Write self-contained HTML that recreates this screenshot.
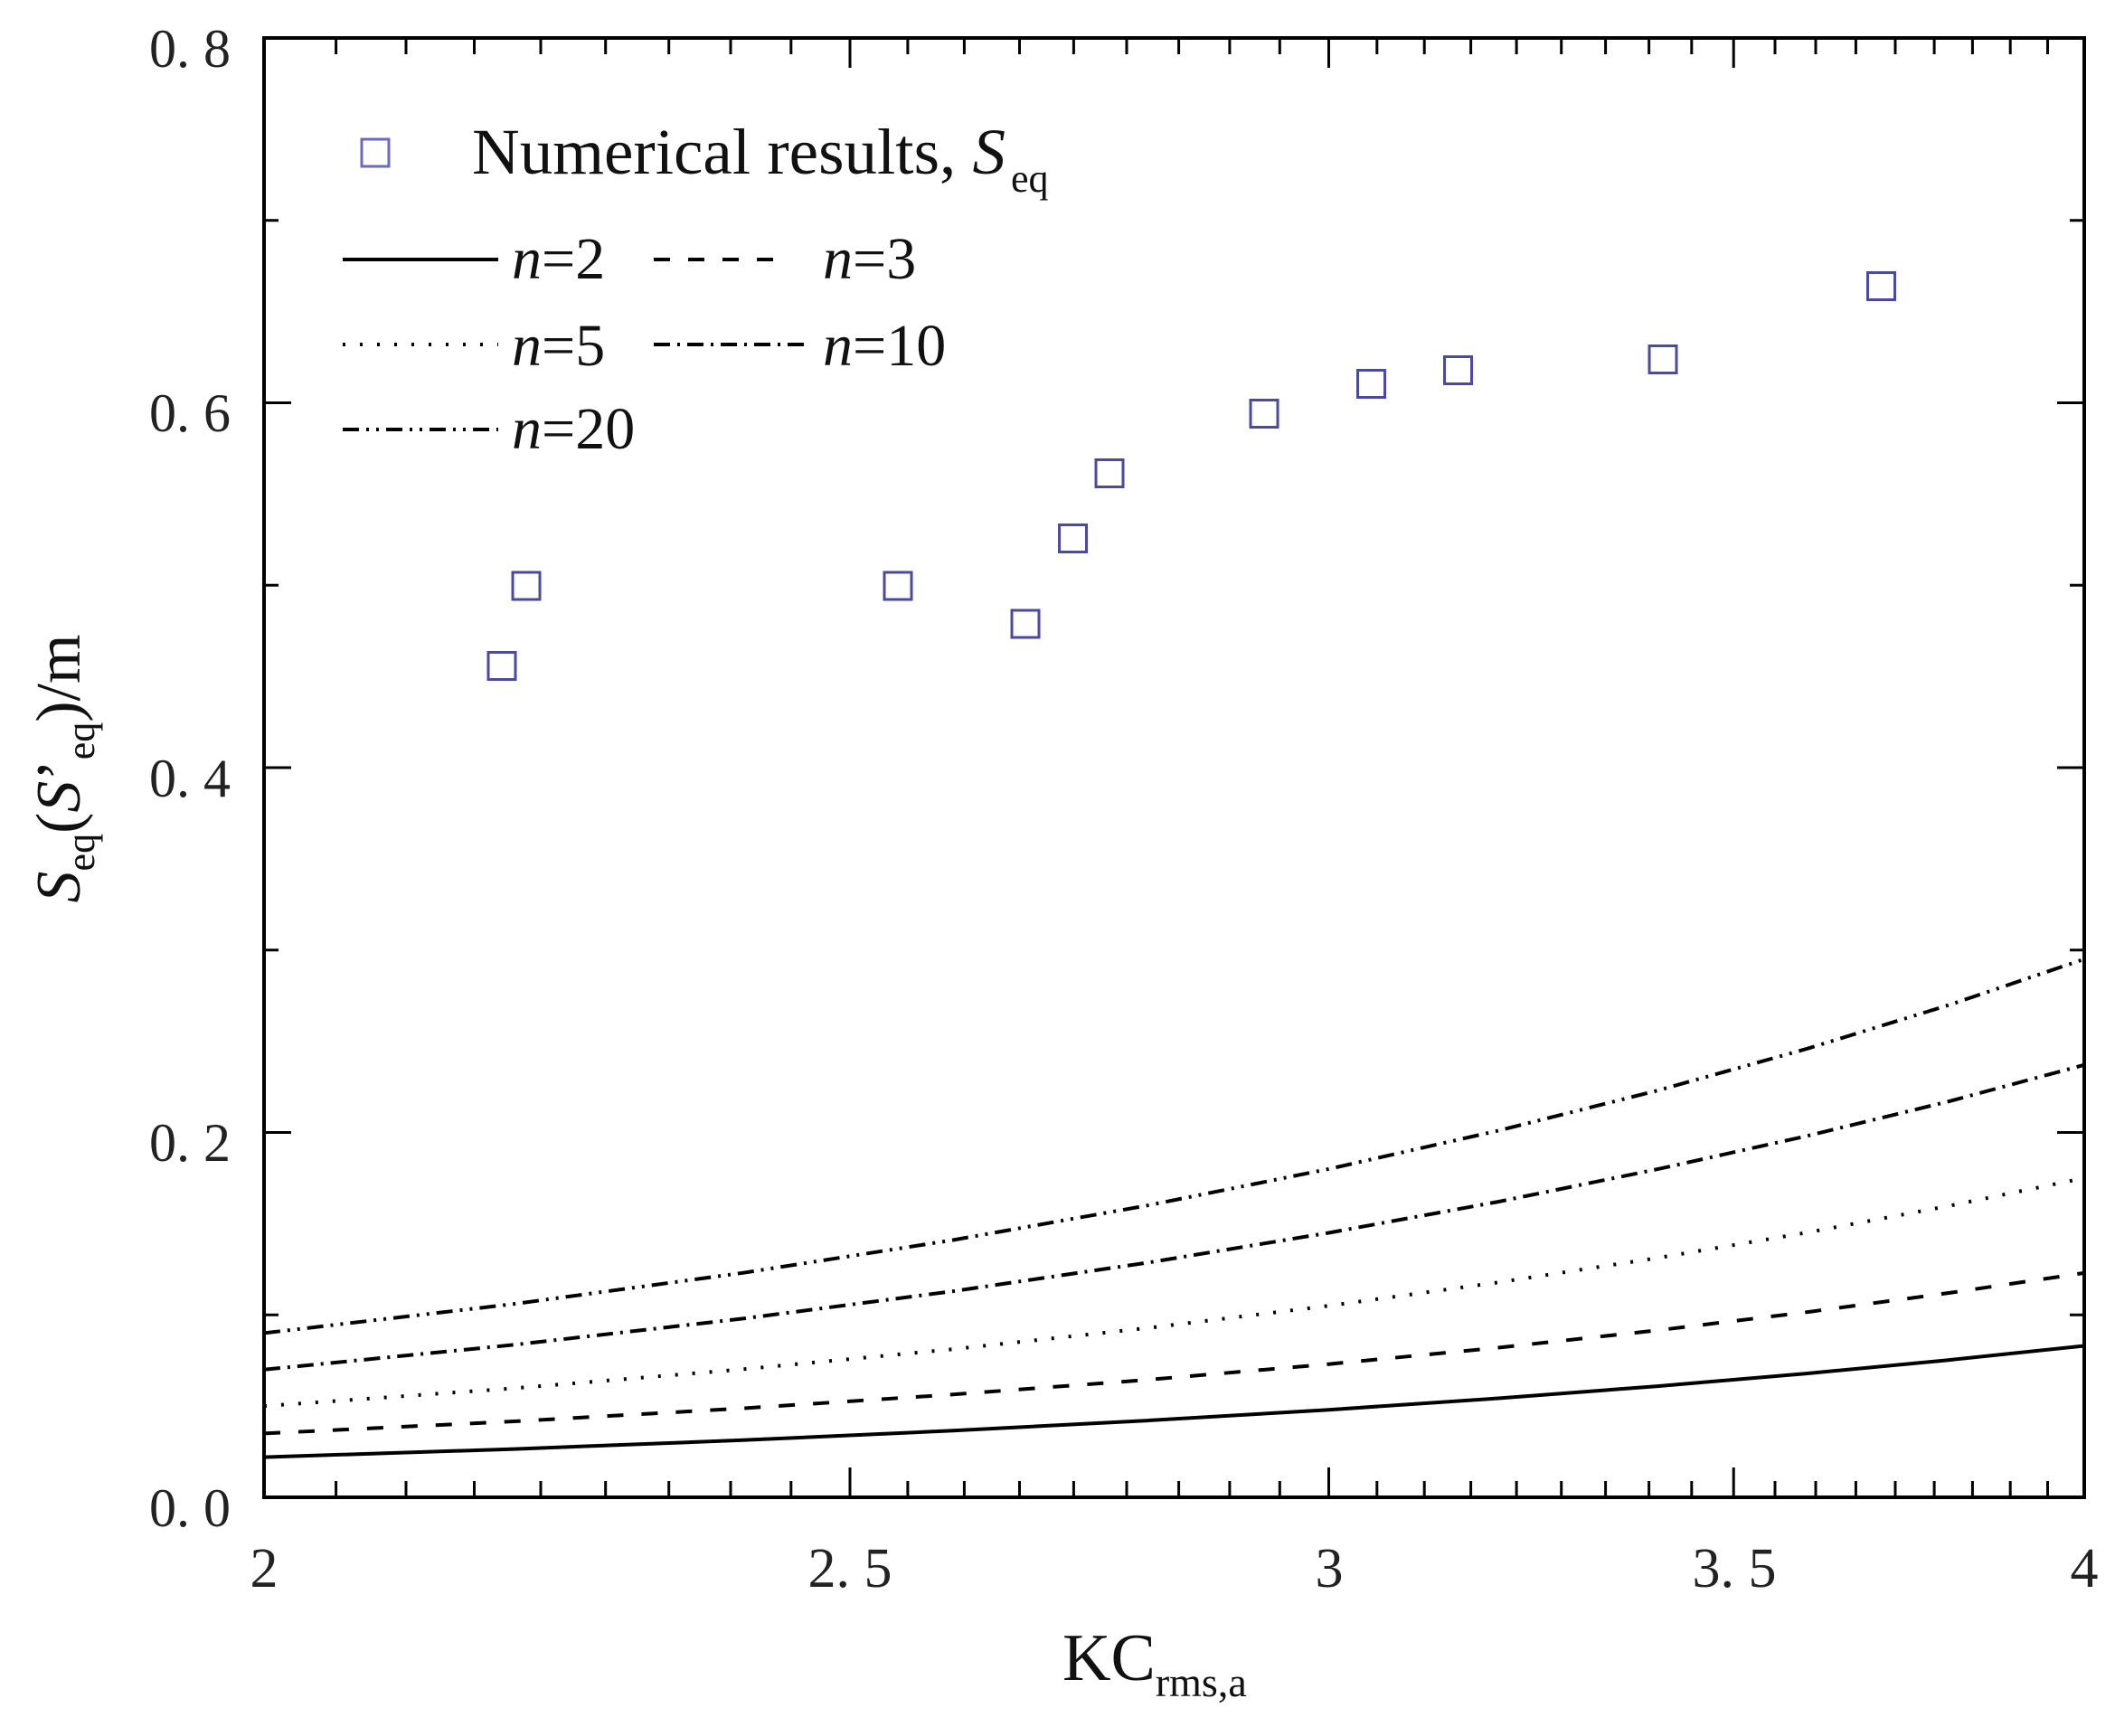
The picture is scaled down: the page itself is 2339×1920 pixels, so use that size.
<!DOCTYPE html>
<html><head><meta charset="utf-8"><style>body{margin:0;background:#fff}svg{display:block}</style></head><body>
<svg width="2339" height="1920" viewBox="0 0 2339 1920" xmlns="http://www.w3.org/2000/svg" font-family="Liberation Serif, serif">
<rect width="2339" height="1920" fill="#fff"/>
<g stroke="#000" stroke-width="3" fill="none">
<path d="M292 1656v-33M292 42v33M940 1656v-33M940 42v33M1469.5 1656v-33M1469.5 42v33M1917.2 1656v-33M1917.2 42v33M2305 1656v-33M2305 42v33"/>
<path d="M371.6 1656v-18M449 1656v-18M524.5 1656v-18M598 1656v-18M669.7 1656v-18M739.7 1656v-18M808 1656v-18M874.8 1656v-18M1003.9 1656v-18M1066.4 1656v-18M1127.5 1656v-18M1187.4 1656v-18M1246 1656v-18M1303.6 1656v-18M1359.9 1656v-18M1415.3 1656v-18M1522.8 1656v-18M1575.2 1656v-18M1626.6 1656v-18M1677.1 1656v-18M1726.7 1656v-18M1775.6 1656v-18M1823.6 1656v-18M1870.8 1656v-18M1963 1656v-18M2008 1656v-18M2052.4 1656v-18M2096 1656v-18M2139.1 1656v-18M2181.4 1656v-18M2223.2 1656v-18M2264.5 1656v-18"/>
<path d="M371.6 42v18M449 42v18M524.5 42v18M598 42v18M669.7 42v18M739.7 42v18M808 42v18M874.8 42v18M1003.9 42v18M1066.4 42v18M1127.5 42v18M1187.4 42v18M1246 42v18M1303.6 42v18M1359.9 42v18M1415.3 42v18M1522.8 42v18M1575.2 42v18M1626.6 42v18M1677.1 42v18M1726.7 42v18M1775.6 42v18M1823.6 42v18M1870.8 42v18M1963 42v18M2008 42v18M2052.4 42v18M2096 42v18M2139.1 42v18M2181.4 42v18M2223.2 42v18M2264.5 42v18"/>
<path d="M292 1252.5h30M292 849h30M292 445.5h30M2305 1252.5h-30M2305 849h-30M2305 445.5h-30M292 1454.25h16M292 1050.75h16M292 647.25h16M292 243.75h16M2305 1454.25h-16M2305 1050.75h-16M2305 647.25h-16M2305 243.75h-16"/>
</g>
<g fill="none" stroke="#000" stroke-width="4">
<polyline points="292,1611.6 568.8,1602.6 821.5,1592.8 1053.9,1582.3 1269.2,1571.1 1469.5,1559.2 1657,1546.5 1833.1,1533.1 1999.1,1519 2156.1,1504.1 2305,1488.5"/>
<polyline stroke-dasharray="18 20" points="292,1585.4 568.8,1572 821.5,1557.6 1053.9,1542.3 1269.2,1526 1469.5,1508.7 1657,1490.5 1833.1,1471.3 1999.1,1451.1 2156.1,1429.9 2305,1407.9"/>
<polyline stroke-dasharray="3 16" points="292,1555.1 568.8,1535.4 821.5,1514.4 1053.9,1492.2 1269.2,1468.8 1469.5,1444.2 1657,1418.3 1833.1,1391.3 1999.1,1363.1 2156.1,1333.6 2305,1302.9"/>
<polyline stroke-dasharray="18 8 3 8" points="292,1514.8 568.8,1487.3 821.5,1458.4 1053.9,1428.1 1269.2,1396.5 1469.5,1363.5 1657,1329.1 1833.1,1293.1 1999.1,1256.2 2156.1,1217.9 2305,1177.8"/>
<polyline stroke-dasharray="18 8 3 8 3 8" points="292,1474.4 568.8,1442.1 821.5,1407.8 1053.9,1371.5 1269.2,1333.2 1469.5,1292.9 1657,1250.5 1833.1,1206.1 1999.1,1159.7 2156.1,1111.3 2305,1060.8"/>
</g>
<g fill="none" stroke="#4a4aa0" stroke-width="3">
<rect x="540" y="721.5" width="30" height="30"/>
<rect x="567" y="633" width="30" height="30"/>
<rect x="978" y="633" width="30" height="30"/>
<rect x="1119" y="675" width="30" height="30"/>
<rect x="1171.5" y="580.5" width="30" height="30"/>
<rect x="1212" y="508.5" width="30" height="30"/>
<rect x="1383" y="442.5" width="30" height="30"/>
<rect x="1501.5" y="409.5" width="30" height="30"/>
<rect x="1597.5" y="394.5" width="30" height="30"/>
<rect x="1824" y="382.5" width="30" height="30"/>
<rect x="2065.5" y="301.5" width="30" height="30"/>
</g>
<rect x="292" y="42" width="2013" height="1614" fill="none" stroke="#000" stroke-width="4"/>
<g font-size="60" fill="#222" text-anchor="end">
<text x="255" y="74">0. 8</text><text x="255" y="477">0. 6</text><text x="255" y="881">0. 4</text><text x="255" y="1284">0. 2</text><text x="255" y="1688">0. 0</text>
</g>
<g font-size="62" fill="#222" text-anchor="middle">
<text x="292" y="1755">2</text><text x="940" y="1755">2. 5</text><text x="1470" y="1755">3</text><text x="1918" y="1755">3. 5</text><text x="2305" y="1755">4</text>
</g>
<text x="1175" y="1858" font-size="74" fill="#111">KC<tspan font-size="46" dy="18">rms,a</tspan></text>
<text transform="translate(88,850) rotate(-90)" text-anchor="middle" font-size="70" fill="#111"><tspan font-style="italic">S</tspan><tspan font-size="44" dy="16">eq</tspan><tspan dy="-16">(</tspan><tspan font-style="italic">S</tspan><tspan>’</tspan><tspan font-size="44" dy="16">eq</tspan><tspan dy="-16">)/m</tspan></text>
<rect x="400" y="154" width="30" height="30" fill="none" stroke="#6a6ac0" stroke-width="3"/>
<text x="522" y="192" font-size="72" fill="#111" textLength="590" lengthAdjust="spacingAndGlyphs">Numerical results, <tspan font-style="italic">S</tspan></text>
<text x="1118" y="212" font-size="44" fill="#111">eq</text>
<g font-size="66" fill="#111">
<text x="566" y="308"><tspan font-style="italic">n</tspan>=2</text>
<text x="910" y="308"><tspan font-style="italic">n</tspan>=3</text>
<text x="566" y="404"><tspan font-style="italic">n</tspan>=5</text>
<text x="910" y="404"><tspan font-style="italic">n</tspan>=10</text>
<text x="566" y="496"><tspan font-style="italic">n</tspan>=20</text>
</g>
<g fill="none" stroke="#000" stroke-width="4">
<line x1="379" y1="287" x2="551" y2="287"/>
<line x1="723" y1="287" x2="872" y2="287" stroke-dasharray="18 20"/>
<line x1="379" y1="381" x2="551" y2="381" stroke-dasharray="3 16"/>
<line x1="723" y1="381" x2="890" y2="381" stroke-dasharray="18 8 3 8"/>
<line x1="379" y1="475" x2="551" y2="475" stroke-dasharray="18 8 3 8 3 8"/>
</g>
</svg>
</body></html>
